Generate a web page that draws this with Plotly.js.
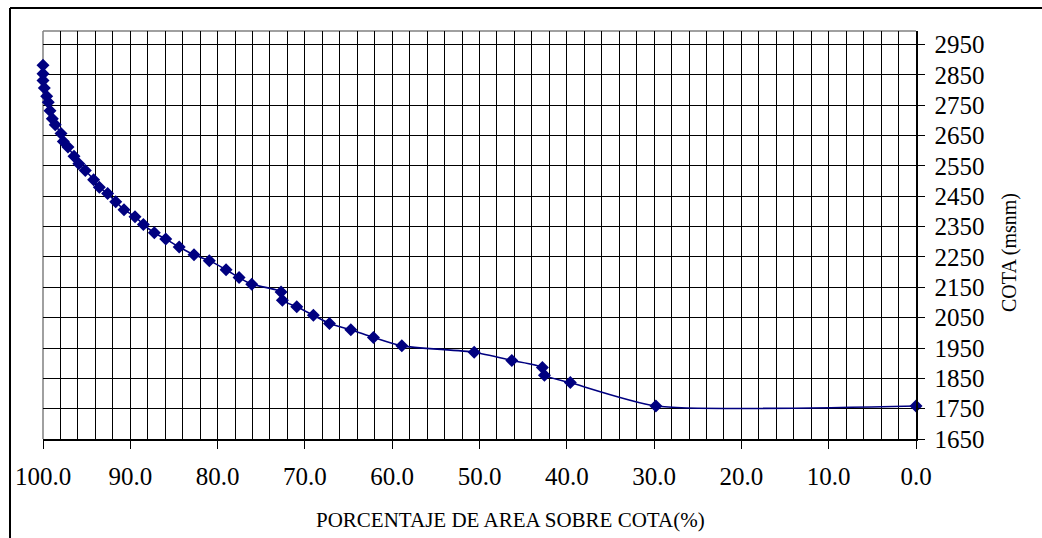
<!DOCTYPE html>
<html>
<head>
<meta charset="utf-8">
<script src="https://cdn.plot.ly/plotly-3.0.1.min.js"></script>
<style>
  html, body { margin: 0; padding: 0; background: #ffffff; }
  #chart { width: 1042px; height: 538px; }
</style>
</head>
<body>
<div id="chart"></div>
<script>
// Percentage of area above elevation (%)
const porcentaje = [
  100.0, 100.0, 100.0, 99.85, 99.58, 99.4, 99.2, 98.93, 98.6, 97.94,
  97.67, 97.14, 96.45, 95.9, 95.15, 94.2, 93.55, 92.6, 91.67, 90.72,
  89.46, 88.5, 87.25, 85.94, 84.4, 82.7, 80.95, 79.03, 77.54, 76.09,
  72.73, 72.58, 70.93, 69.03, 67.19, 64.74, 62.15, 58.9, 50.61, 46.3,
  42.8, 42.56, 39.6, 29.8, 0.0
];
// Elevation (msnm)
const cota = [
  2882, 2854, 2832, 2807, 2780, 2760, 2732, 2706, 2686, 2657,
  2631, 2613, 2582, 2557, 2535, 2505, 2480, 2459, 2432, 2406,
  2383, 2357, 2330, 2309, 2283, 2257, 2238, 2208, 2182, 2160,
  2135, 2107, 2086, 2058, 2031, 2010, 1985, 1957, 1936, 1909,
  1886, 1860, 1836, 1759, 1759
];
const xTitle = "PORCENTAJE DE AREA SOBRE COTA(%)";
const yTitle = "COTA (msnm)";

const fontFamily = "'Liberation Serif', 'DejaVu Serif', serif";

const trace = {
  type: 'scatter',
  mode: 'lines+markers',
  x: porcentaje,
  y: cota,
  cliponaxis: false,
  line: { color: '#000080', width: 1.6, shape: 'spline', smoothing: 0.6 },
  marker: { symbol: 'diamond', size: 10, color: '#000080' },
  showlegend: false,
  hoverinfo: 'x+y'
};

const layout = {
  width: 1042,
  height: 538,
  margin: { l: 43, r: 126, t: 31, b: 99, pad: 0 },
  paper_bgcolor: '#ffffff',
  plot_bgcolor: '#ffffff',
  font: { family: fontFamily, color: '#000000', size: 25 },
  showlegend: false,
  xaxis: {
    range: [100, 0],
    tick0: 0,
    dtick: 10,
    tickformat: '.1f',
    ticks: 'outside',
    ticklen: 8,
    tickwidth: 1,
    tickcolor: '#000000',
    ticklabelstandoff: 6,
    showgrid: true,
    gridcolor: '#000000',
    gridwidth: 1,
    minor: { dtick: 2, showgrid: true, gridcolor: '#000000', gridwidth: 1, ticks: '' },
    showline: true,
    linecolor: '#000000',
    linewidth: 1.5,
    zeroline: false,
    tickfont: { family: fontFamily, size: 25, color: '#000000' },
    fixedrange: true
  },
  yaxis: {
    side: 'right',
    range: [1650, 2995],
    tick0: 1650,
    dtick: 100,
    ticks: 'outside',
    ticklen: 7,
    tickwidth: 1,
    tickcolor: '#000000',
    ticklabelstandoff: 5,
    showgrid: true,
    gridcolor: '#000000',
    gridwidth: 1,
    showline: true,
    linecolor: '#000000',
    linewidth: 1.5,
    zeroline: false,
    tickfont: { family: fontFamily, size: 25, color: '#000000' },
    fixedrange: true
  },
  shapes: [
    // gray plot-area border (top and left)
    { type: 'line', xref: 'paper', yref: 'paper', x0: 0, x1: 1, y0: 1, y1: 1,
      line: { color: '#808080', width: 1.5 }, layer: 'between' },
    { type: 'line', xref: 'paper', yref: 'paper', x0: 0, x1: 0, y0: 0, y1: 1,
      line: { color: '#808080', width: 1.5 }, layer: 'between' },
    // outer chart frame (top and left edges; others are off-canvas)
    { type: 'line', xref: 'paper', yref: 'paper', x0: -0.0378, x1: 1.25, y0: 1.0566, y1: 1.0566,
      line: { color: '#000000', width: 2 } },
    { type: 'line', xref: 'paper', yref: 'paper', x0: -0.0378, x1: -0.0378, y0: -0.35, y1: 1.0566,
      line: { color: '#000000', width: 2 } }
  ],
  annotations: [
    { text: xTitle, xref: 'paper', yref: 'paper', x: 0.535, y: -0.199,
      xanchor: 'center', yanchor: 'middle', showarrow: false,
      font: { family: fontFamily, size: 21, color: '#000000' } },
    { text: yTitle, xref: 'paper', yref: 'paper', x: 1.1077, y: 0.456,
      xanchor: 'center', yanchor: 'middle', showarrow: false, textangle: -90,
      font: { family: fontFamily, size: 20, color: '#000000' } }
  ]
};

Plotly.newPlot('chart', [trace], layout, { displayModeBar: false, staticPlot: true });
</script>
</body>
</html>
